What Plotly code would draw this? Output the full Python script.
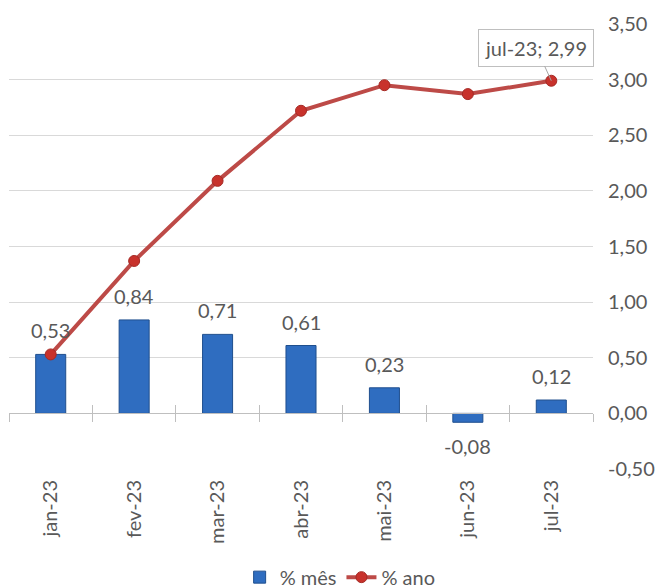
import plotly.graph_objects as go

# Monthly and year-to-date inflation, 2023
months = ["jan-23", "fev-23", "mar-23", "abr-23", "mai-23", "jun-23", "jul-23"]
pct_month = [0.53, 0.84, 0.71, 0.61, 0.23, -0.08, 0.12]
pct_year = [0.53, 1.37, 2.09, 2.72, 2.95, 2.87, 2.99]
y_ticks = [-0.5, 0.0, 0.5, 1.0, 1.5, 2.0, 2.5, 3.0, 3.5]
boundaries = [i - 0.5 for i in range(len(months) + 1)]

FONT = "Lato, 'Open Sans', sans-serif"
GREY = "#595959"
FS = 20


def fmt(v):
    return f"{v:.2f}".replace(".", ",")


fig = go.Figure()

fig.add_trace(go.Bar(
    x=months, y=pct_month, name="% mês",
    width=0.36,
    marker=dict(color="#2f6dc0", line=dict(color="#1f4f8e", width=1)),
))

fig.add_trace(go.Scatter(
    x=months, y=pct_year, name="% ano",
    mode="lines+markers",
    line=dict(color="#bd4a47", width=4),
    marker=dict(size=11, color="#c8322c", line=dict(color="#a52a25", width=1)),
    cliponaxis=False,
))

# helper traces so the crossing-tick axes at zero are drawn
fig.add_trace(go.Scatter(x=[None], y=[None], xaxis="x2", showlegend=False, hoverinfo="skip"))
fig.add_trace(go.Scatter(x=[None], y=[None], xaxis="x3", showlegend=False, hoverinfo="skip"))

# value labels for the monthly bars, set a little away from the bar end
for m, v in zip(months, pct_month):
    fig.add_annotation(
        x=m, y=v, text=fmt(v), showarrow=False,
        yanchor="bottom" if v >= 0 else "top",
        yshift=10 if v >= 0 else -10,
        font=dict(family=FONT, size=FS, color=GREY),
    )

last = len(months) - 1
fig.add_annotation(
    x=months[last], y=pct_year[last],
    text=f"{months[last]}; {fmt(pct_year[last])}",
    showarrow=True, arrowhead=0, arrowwidth=1, arrowcolor="#a6a6a6",
    ax=-15, ay=-33,
    bordercolor="#bfbfbf", borderwidth=1, borderpad=6, bgcolor="white",
    font=dict(family=FONT, size=FS, color=GREY),
)

zero_pos = (0 - y_ticks[0]) / (y_ticks[-1] - y_ticks[0])

fig.update_layout(
    width=670, height=588,
    margin=dict(l=9, r=77, t=24, b=119, autoexpand=False),
    plot_bgcolor="white", paper_bgcolor="white",
    separators=",.",
    font=dict(family=FONT, size=FS, color=GREY),
    xaxis=dict(
        type="category", tickangle=-90, showline=False, ticks="",
        showgrid=False, tickfont=dict(size=FS, color=GREY),
        range=[-0.5, 6.5], automargin=False, ticklabelstandoff=6,
    ),
    xaxis2=dict(
        overlaying="x", anchor="free", position=zero_pos, range=[-0.5, 6.5],
        tickvals=boundaries, showticklabels=False, ticks="outside", ticklen=8,
        tickcolor="#bfbfbf", showline=True, linecolor="#bfbfbf", linewidth=1,
        showgrid=False, zeroline=False, automargin=False,
    ),
    xaxis3=dict(
        overlaying="x", anchor="free", position=zero_pos, range=[-0.5, 6.5],
        tickvals=boundaries, showticklabels=False, ticks="inside", ticklen=8,
        tickcolor="#bfbfbf", showline=False, showgrid=False, zeroline=False,
        automargin=False,
    ),
    yaxis=dict(
        side="right", range=[y_ticks[0], y_ticks[-1]], tickvals=y_ticks,
        ticktext=[fmt(v) for v in y_ticks],
        showgrid=True, gridcolor="#d9d9d9", gridwidth=1,
        zeroline=False, ticks="", showline=False,
        tickfont=dict(size=FS, color=GREY), automargin=False,
        ticklabelstandoff=14,
    ),
    legend=dict(
        orientation="h", x=0.567, xanchor="center", y=-0.243, yanchor="middle",
        font=dict(size=FS, color=GREY), tracegroupgap=0,
    ),
    showlegend=True,
)

fig.write_html("out.html")
